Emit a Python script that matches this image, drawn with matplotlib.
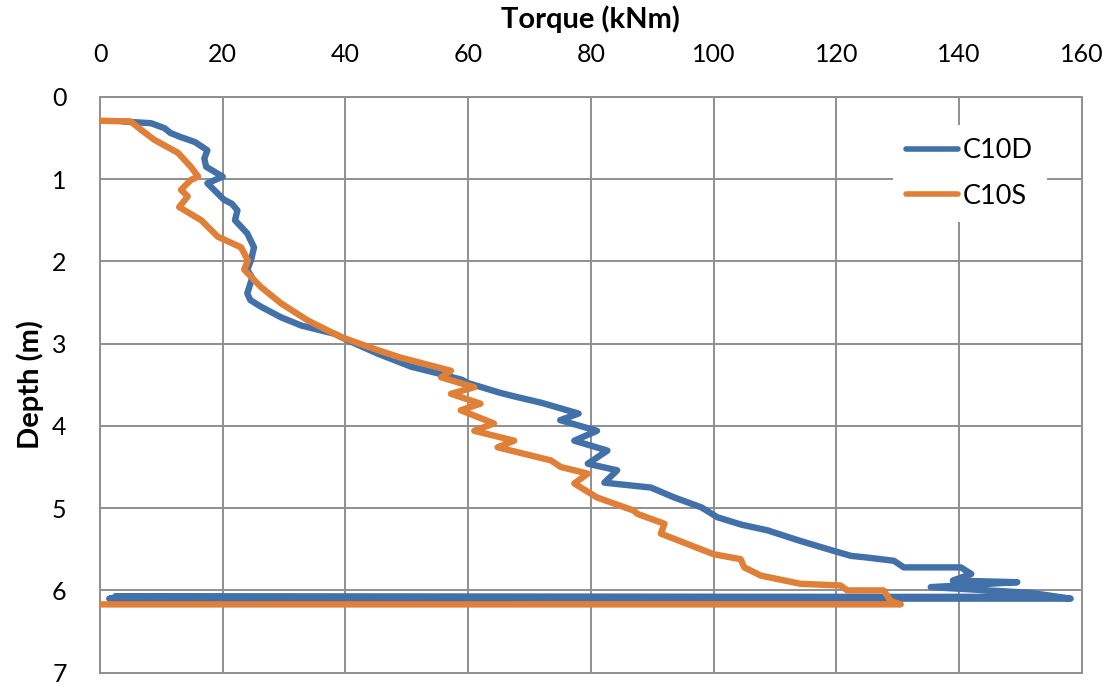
import numpy as np
import matplotlib.pyplot as plt

# torque (kNm) vs depth (m)
c10d_torque = [3.7, 8.3, 10.5, 11.5, 13.2, 15.5, 17.5, 17.0, 17.3, 20.0, 17.5, 20.2, 21.5, 22.4, 22.0,
               24.0, 25.1, 24.6, 24.0, 24.8, 24.0, 24.5, 26.2, 29.5, 32.8, 38.2, 40.4, 45.2, 50.7,
               55.0, 59.0, 60.0, 65.3, 68.0, 72.0, 78.0, 75.0, 81.0, 77.3, 82.7, 79.5, 84.3, 82.2,
               89.8, 93.6, 98.0, 100.6, 104.5, 108.8, 114.2, 119.6, 122.4, 125.0, 129.4, 131.0,
               140.3, 142.0, 139.0, 149.5, 135.4, 151.7, 158.2, 1.5, 150.0, 2.5]
c10d_depth = [0.30, 0.32, 0.38, 0.44, 0.49, 0.55, 0.65, 0.75, 0.85, 0.97, 1.05, 1.25, 1.30, 1.38, 1.50,
              1.66, 1.83, 1.99, 2.10, 2.20, 2.39, 2.47, 2.55, 2.68, 2.78, 2.88, 2.96, 3.12, 3.28,
              3.36, 3.44, 3.48, 3.60, 3.65, 3.72, 3.85, 3.93, 4.06, 4.18, 4.30, 4.46, 4.54, 4.69,
              4.75, 4.87, 4.99, 5.11, 5.20, 5.27, 5.40, 5.52, 5.58, 5.60, 5.64, 5.72,
              5.72, 5.80, 5.88, 5.90, 5.96, 6.03, 6.10, 6.10, 6.08, 6.07]

c10s_torque = [0.0, 5.0, 6.7, 8.8, 12.7, 14.8, 16.0, 14.8, 13.2, 14.3, 12.9, 16.5, 19.2, 23.0,
               24.1, 23.5, 26.2, 29.5, 33.9, 39.3, 45.3, 49.0, 57.2, 55.6, 61.0, 57.2, 62.0, 58.8,
               64.2, 61.0, 67.5, 64.8, 73.5, 75.1, 79.5, 77.3, 81.0, 87.0, 87.6, 92.0, 91.4, 95.2,
               100.0, 104.4, 105.0, 107.7, 114.2, 120.7, 121.8, 127.7, 128.9, 130.5, 0.0]
c10s_depth = [0.29, 0.30, 0.40, 0.52, 0.68, 0.85, 0.97, 1.01, 1.13, 1.21, 1.34, 1.50, 1.70, 1.83,
              1.99, 2.10, 2.31, 2.51, 2.72, 2.92, 3.08, 3.17, 3.33, 3.41, 3.53, 3.61, 3.73, 3.81,
              3.97, 4.06, 4.18, 4.26, 4.42, 4.50, 4.58, 4.70, 4.87, 5.03, 5.07, 5.19, 5.31, 5.42,
              5.56, 5.62, 5.72, 5.82, 5.92, 5.94, 6.00, 6.00, 6.13, 6.17, 6.17]

x_ticks = np.arange(0, 161, 20)
y_ticks = np.arange(0, 8, 1)

plt.rcParams['font.family'] = ['Lato', 'DejaVu Sans']
fig = plt.figure(figsize=(11.1, 6.85), dpi=100)
ax = fig.add_axes([0.0901, 0.018, 0.8844, 0.8406])

ax.plot(c10d_torque, c10d_depth, color='#4270A8', lw=4.6, solid_joinstyle='round',
        solid_capstyle='round', label='C10D', zorder=3)
ax.plot(c10s_torque, c10s_depth, color='#E07F38', lw=4.6, solid_joinstyle='round',
        solid_capstyle='butt', label='C10S', zorder=3)

ax.set_xlim(0, 160); ax.set_ylim(7, 0)
ax.set_xticks(x_ticks); ax.set_yticks(y_ticks)
ax.xaxis.tick_top(); ax.xaxis.set_label_position('top')
ax.tick_params(length=0, labelsize=18, colors='black')
ax.tick_params(axis='x', pad=22); ax.tick_params(axis='y', pad=24)
ax.grid(True, color='#8F8F8F', lw=1.4, zorder=1)
for s in ax.spines.values():
    s.set_color('#8F8F8F'); s.set_linewidth(1.4)
ax.set_axisbelow(True)

ax.set_xlabel('Torque (kNm)', fontsize=21, fontweight='bold', labelpad=11)
ax.set_ylabel('Depth (m)', fontsize=21, fontweight='bold', labelpad=6)

leg = ax.legend(loc='upper right', bbox_to_anchor=(0.978, 0.975), fontsize=19.5, frameon=True,
                fancybox=False, edgecolor='none', facecolor='white', framealpha=1,
                handlelength=1.9, handletextpad=0.2, borderpad=0.5, labelspacing=0.75)
for h in leg.get_lines():
    h.set_linewidth(4.0); h.set_solid_capstyle('round')

fig.savefig('out.png', dpi=100)
